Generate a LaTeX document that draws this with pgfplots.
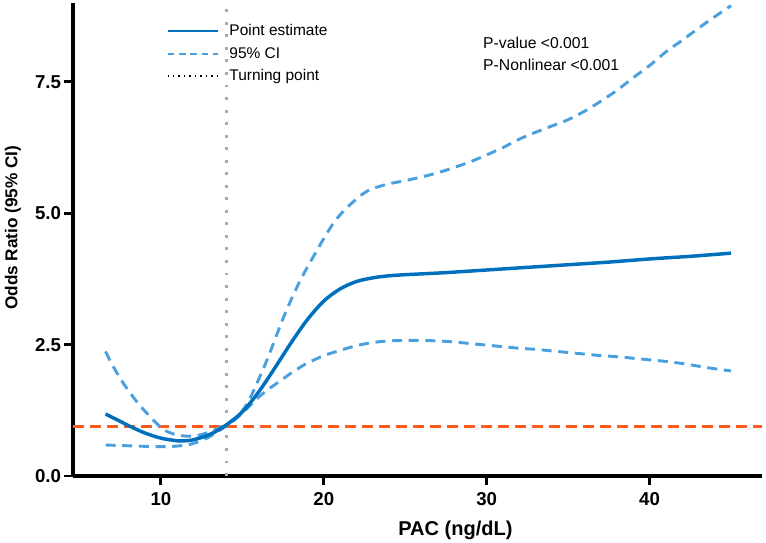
\documentclass[border=0pt]{standalone}
\usepackage{pgfplots}
\pgfplotsset{compat=1.18}
\usepackage{pgfplotstable}
\usetikzlibrary{calc}
\usepackage{fontspec}
\setmainfont{Liberation Sans}
\definecolor{pe}{RGB}{0,112,189}
\definecolor{ci}{RGB}{74,160,222}
\definecolor{refc}{RGB}{255,90,30}
\definecolor{tp}{RGB}{170,170,170}
\pgfplotstableread{
x y
6.6 1.18
7.5 1.04
8.0 0.96
9.0 0.82
10.0 0.72
11.0 0.67
11.5 0.67
12.0 0.69
13.0 0.79
14.0 0.97
15.0 1.22
16.0 1.60
17.0 2.06
18.0 2.54
19.0 2.98
20.0 3.33
21.0 3.56
22.0 3.70
23.0 3.77
24.0 3.81
25.0 3.83
27.5 3.87
30.0 3.92
32.5 3.97
35.0 4.02
37.5 4.07
40.0 4.13
42.5 4.18
45.0 4.24
}\pe
\pgfplotstableread{
x y
6.6 2.37
7.0 2.12
7.7 1.76
8.5 1.42
9.0 1.24
10.0 0.92
10.5 0.83
11.0 0.78
11.5 0.76
12.0 0.76
12.6 0.80
13.4 0.89
14.0 0.98
14.5 1.08
15.0 1.24
15.5 1.50
16.0 1.84
16.5 2.20
17.0 2.60
17.5 3.00
18.0 3.36
18.5 3.69
19.0 3.98
19.5 4.25
20.0 4.52
20.5 4.77
21.0 4.97
21.5 5.13
22.0 5.27
22.5 5.39
23.0 5.47
24.0 5.56
25.0 5.62
26.0 5.69
27.0 5.77
28.0 5.87
29.0 5.98
30.0 6.11
31.0 6.25
32.0 6.41
33.0 6.54
34.0 6.66
35.0 6.78
36.0 6.94
37.0 7.13
38.0 7.34
39.0 7.58
40.0 7.81
41.0 8.07
42.0 8.29
43.0 8.52
44.0 8.74
45.0 8.95
}\up
\pgfplotstableread{
x y
6.6 0.59
7.5 0.58
8.5 0.57
9.5 0.56
10.5 0.56
11.0 0.57
11.6 0.59
12.0 0.62
12.6 0.69
13.0 0.75
13.4 0.83
14.0 0.95
14.5 1.06
15.0 1.20
15.5 1.35
16.0 1.50
16.5 1.63
17.0 1.74
17.5 1.85
18.0 1.96
18.5 2.06
19.0 2.15
20.0 2.29
21.0 2.39
22.0 2.48
23.0 2.54
24.0 2.57
25.0 2.58
26.0 2.58
27.0 2.57
28.0 2.55
29.0 2.52
30.0 2.49
31.0 2.46
32.0 2.43
33.0 2.41
34.0 2.38
35.0 2.35
36.0 2.32
37.0 2.29
38.0 2.27
39.0 2.24
40.0 2.21
41.0 2.18
42.0 2.14
43.0 2.09
44.0 2.04
45.0 2.00
}\lo
\begin{document}
\begin{tikzpicture}
\begin{axis}[
  scale only axis, width=516.75pt, height=354.75pt,
  xmin=4.6, xmax=46.9, ymin=0, ymax=9.0,
  axis lines=left, axis line style={line width=2.6pt, -},
  xtick={10,20,30,40}, ytick={0,2.5,5,7.5},
  yticklabel style={/pgf/number format/fixed, /pgf/number format/fixed zerofill, /pgf/number format/precision=1, xshift=1pt},
  xticklabel style={yshift=-2pt},
  /pgf/number format/assume math mode=true,
  tick style={line width=2.2pt, black}, tick align=outside,
  major tick length=6.5pt,
  ticklabel style={font=\fontsize{14}{16}\selectfont\bfseries},
  xlabel={PAC (ng/dL)}, ylabel={Odds Ratio (95\% CI)},
  xlabel style={font=\fontsize{15}{17}\selectfont\bfseries, at={(rel axis cs:0.555,0)}, anchor=center, yshift=-41pt},
  ylabel style={font=\fontsize{12.9}{14}\selectfont\bfseries, at={($(rel axis cs:0,0.525)+(-45pt,0pt)$)}, anchor=center},
  legend style={at={(rel axis cs:0.135,0.955)}, anchor=north west, draw=none, fill=none,
    font=\fontsize{11.6}{13.5}\selectfont, row sep=7.1pt, inner sep=0pt,
    nodes={inner sep=0pt}, column sep=8pt},
  legend cell align=left,
  legend image code/.code={\draw[#1] (0pt,0pt) -- (37.5pt,0pt);},
  clip=false,
]
\addlegendimage{pe, line width=1.9pt}
\addlegendentry{Point estimate}
\addlegendimage{ci, line width=1.5pt, dash pattern=on 5pt off 3.5pt}
\addlegendentry{95\% CI}
\addlegendimage{black, line width=1.1pt, dash pattern=on 1.1pt off 3pt}
\addlegendentry{Turning point}
\addplot[tp, line width=2.4pt, dash pattern=on 2.2pt off 7.2pt, forget plot] coordinates {(14,0) (14,9)};
\addplot[refc, line width=2.2pt, dash pattern=on 8.25pt off 4.5pt, forget plot] coordinates {(4.6,0.95) (46.9,0.95)};
\addplot[ci, line width=2.2pt, dash pattern=on 7.5pt off 5pt, smooth, forget plot] table {\up};
\addplot[ci, line width=2.2pt, dash pattern=on 7.5pt off 5pt, smooth, forget plot] table {\lo};
\addplot[pe, line width=2.6pt, smooth, forget plot] table {\pe};
\node[anchor=west, font=\fontsize{11.8}{13}\selectfont, inner sep=0pt] at (rel axis cs:0.595,0.9154) {P-value <0.001};
\node[anchor=west, font=\fontsize{11.8}{13}\selectfont, inner sep=0pt] at (rel axis cs:0.595,0.869) {P-Nonlinear <0.001};
\coordinate (ll) at (rel axis cs:0,0);
\coordinate (ur) at (rel axis cs:1,1);
\end{axis}
\pgfresetboundingbox
\path (ll) ++(-54.75pt,-49.5pt) coordinate (a);
\path (ur) ++(3pt,2.25pt) coordinate (b);
\path[use as bounding box] (a) rectangle (b);
\end{tikzpicture}
\end{document}
